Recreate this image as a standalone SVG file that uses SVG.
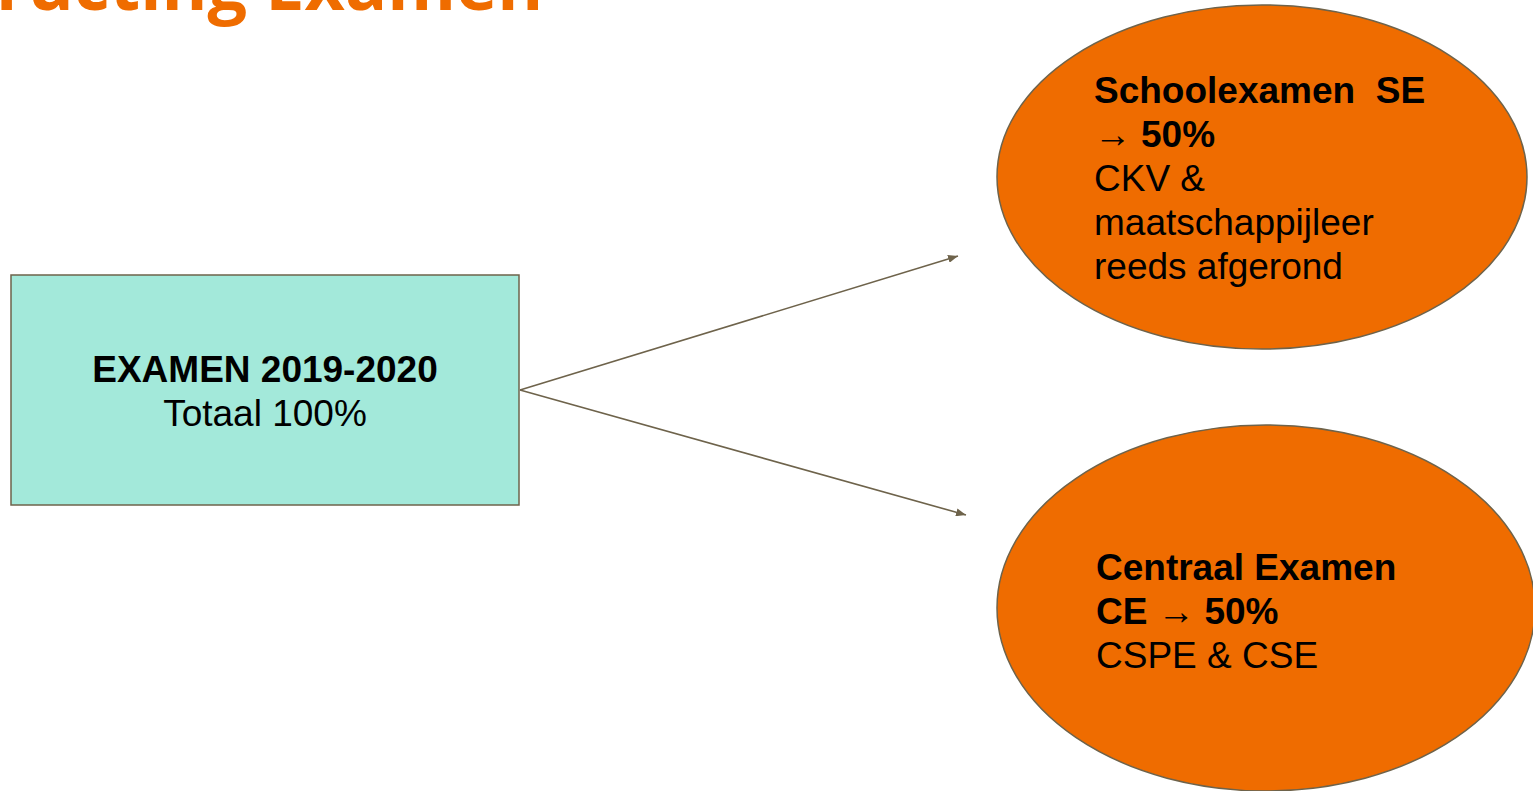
<svg xmlns="http://www.w3.org/2000/svg" width="1533" height="791" viewBox="0 0 1533 791">
<defs>
<style>
.title{font-family:"Open Sans","Liberation Sans",sans-serif;font-weight:700;font-size:70px;fill:#ef6c00}
.t{font-family:"Liberation Sans",Arial,sans-serif;font-size:37px;fill:#000}
.b{font-weight:700}
.n{font-weight:400}
.ar{font-family:"Liberation Serif","DejaVu Sans",serif;font-weight:400;font-size:37px}
.edge{stroke:#6e634b;stroke-width:1.6;fill:none}
.node{stroke:#6e634b;stroke-width:1.5}
</style>
<marker id="ah" viewBox="0 0 10 8" refX="10" refY="4" markerWidth="10" markerHeight="8" markerUnits="userSpaceOnUse" orient="auto">
<path d="M0,0 L10,4 L0,8 Z" fill="#6e634b"/>
</marker>
</defs>
<rect width="1533" height="791" fill="#ffffff"/>
<text class="title" x="-4" y="10">ructing Examen</text>
<g id="connectors">
<line class="edge" x1="520" y1="390" x2="958" y2="256" marker-end="url(#ah)"/>
<line class="edge" x1="520" y1="390" x2="966" y2="515" marker-end="url(#ah)"/>
</g>
<g id="node-examen">
<rect class="node" x="11" y="275" width="508" height="230" fill="#a3e9da"/>
<text class="t b" x="265" y="382" text-anchor="middle">EXAMEN 2019-2020</text>
<text class="t" x="265" y="426" text-anchor="middle">Totaal 100%</text>
</g>
<g id="node-se">
<ellipse class="node" cx="1262" cy="177" rx="265" ry="172" fill="#ef6c00"/>
<text class="t" x="1094" y="103" xml:space="preserve"><tspan class="b">Schoolexamen  SE</tspan></text>
<text class="t" x="1094" y="147"><tspan class="ar">→</tspan><tspan class="b" dx="10">50%</tspan></text>
<text class="t" x="1094" y="191">CKV &amp;</text>
<text class="t" x="1094" y="235">maatschappijleer</text>
<text class="t" x="1094" y="279">reeds afgerond</text>
</g>
<g id="node-ce">
<ellipse class="node" cx="1266" cy="608" rx="269" ry="183" fill="#ef6c00"/>
<text class="t b" x="1096" y="580">Centraal Examen</text>
<text class="t" x="1096" y="624"><tspan class="b">CE</tspan><tspan class="ar" dx="10">→</tspan><tspan class="b" dx="10">50%</tspan></text>
<text class="t" x="1096" y="668">CSPE &amp; CSE</text>
</g>
</svg>
